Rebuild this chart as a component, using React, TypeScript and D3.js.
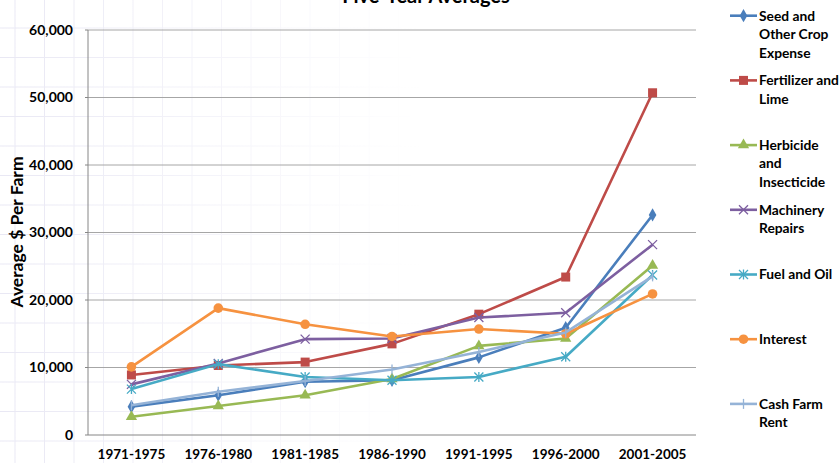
import React from 'react';
import * as d3 from 'd3';

const periods = ['1971-1975', '1976-1980', '1981-1985', '1986-1990', '1991-1995', '1996-2000', '2001-2005'];

const seed = [4200, 5900, 7900, 8100, 11500, 15900, 32600];
const fertilizer = [8900, 10300, 10800, 13500, 17900, 23400, 50700];
const herbicide = [2700, 4300, 5900, 8300, 13200, 14300, 25100];
const machinery = [7500, 10600, 14200, 14300, 17400, 18100, 28200];
const fuel = [6800, 10500, 8600, 8100, 8600, 11600, 23700];
const interest = [10100, 18800, 16400, 14600, 15700, 15000, 20900];
const rent = [4400, 6400, 8000, 9700, 12300, 15200, 23500];

const yTicks = [0, 10000, 20000, 30000, 40000, 50000, 60000];

const series = [
  { name: ['Seed and', 'Other Crop', 'Expense'], values: seed, color: '#4A7EBB', marker: 'diamond' },
  { name: ['Fertilizer and', 'Lime'], values: fertilizer, color: '#BE4B48', marker: 'square' },
  { name: ['Herbicide', 'and', 'Insecticide'], values: herbicide, color: '#98B954', marker: 'triangle' },
  { name: ['Machinery', 'Repairs'], values: machinery, color: '#7D5FA0', marker: 'x' },
  { name: ['Fuel and Oil'], values: fuel, color: '#46AAC5', marker: 'star' },
  { name: ['Interest'], values: interest, color: '#F69240', marker: 'circle' },
  { name: ['Cash Farm', 'Rent'], values: rent, color: '#95B3D7', marker: 'plus' },
];

const W = 840;
const H = 463;
const margin = { left: 88, right: 144, top: 30, bottom: 28 };
const font = 'Lato, "Open Sans", sans-serif';

const Marker = ({ type, x, y, color }: { type: string; x: number; y: number; color: string }) => {
  if (type === 'diamond') {
    return <path d={d3.symbol(d3.symbolDiamond, 50)()!} transform={`translate(${x},${y})`} fill={color} />;
  }
  if (type === 'square') {
    return <rect x={x - 4.5} y={y - 4.5} width={9} height={9} fill={color} />;
  }
  if (type === 'triangle') {
    return <path d={d3.symbol(d3.symbolTriangle, 55)()!} transform={`translate(${x},${y})`} fill={color} />;
  }
  if (type === 'circle') {
    return <circle cx={x} cy={y} r={4.8} fill={color} />;
  }
  if (type === 'x') {
    return (
      <path d={`M${x - 4.5},${y - 4.5}L${x + 4.5},${y + 4.5}M${x - 4.5},${y + 4.5}L${x + 4.5},${y - 4.5}`} stroke={color} strokeWidth={1.3} />
    );
  }
  if (type === 'star') {
    return (
      <path
        d={`M${x - 4.5},${y - 4.5}L${x + 4.5},${y + 4.5}M${x - 4.5},${y + 4.5}L${x + 4.5},${y - 4.5}M${x},${y - 5}L${x},${y + 5}`}
        stroke={color}
        strokeWidth={1.3}
      />
    );
  }
  return <path d={`M${x},${y - 5}L${x},${y + 5}`} stroke={color} strokeWidth={1.3} />;
};

const App = () => {
  const x = d3.scaleBand().domain(periods).range([margin.left, W - margin.right]);
  const y = d3.scaleLinear().domain([0, 60000]).range([H - margin.bottom, margin.top]);
  const cx = (p: string) => x(p)! + x.bandwidth() / 2;
  const line = d3
    .line<number>()
    .x((d, i) => cx(periods[i]))
    .y((d) => y(d));
  const fmt = d3.format(',');

  const bgLines = d3.range(0, 30);

  return (
    <svg width={W} height={H} style={{ position: 'absolute', left: 0, top: 0 }} fontFamily={font}>
      <defs>
        <linearGradient id="fade" x1="0" x2="1" y1="0" y2="0">
          <stop offset="0" stopColor="#fff" stopOpacity={1} />
          <stop offset="0.5" stopColor="#fff" stopOpacity={0} />
        </linearGradient>
        <mask id="bgmask">
          <rect width={W} height={H} fill="url(#fade)" />
        </mask>
      </defs>
      <rect width={W} height={H} fill="#fff" />
      <g mask="url(#bgmask)" stroke="#E9E8F4" strokeWidth={1}>
        {bgLines.map((i) => (
          <line key={'v' + i} x1={15 + i * 29.5} x2={15 + i * 29.5} y1={0} y2={H} />
        ))}
        {bgLines.map((i) => (
          <line key={'h' + i} x1={0} x2={W} y1={-1.5 + i * 29.5} y2={-1.5 + i * 29.5} />
        ))}
      </g>

      {/* gridlines */}
      {yTicks.slice(1).map((t) => (
        <line key={t} x1={margin.left} x2={W - margin.right} y1={y(t)} y2={y(t)} stroke="#A6A6A6" strokeWidth={1} />
      ))}
      <line x1={margin.left} x2={W - margin.right} y1={y(0)} y2={y(0)} stroke="#868686" />
      <line x1={margin.left} x2={margin.left} y1={y(60000)} y2={y(0)} stroke="#868686" />
      {yTicks.map((t) => (
        <line key={'tk' + t} x1={margin.left - 3} x2={margin.left} y1={y(t)} y2={y(t)} stroke="#868686" />
      ))}

      {/* y tick labels */}
      {yTicks.map((t) => (
        <text key={'yl' + t} x={73} y={y(t)} dy="0.35em" textAnchor="end" fontSize={14} fontWeight="bold" fill="#000">
          {fmt(t)}
        </text>
      ))}

      {/* x tick labels */}
      {periods.map((p) => (
        <text key={p} x={cx(p)} y={459} textAnchor="middle" fontSize={13.5} fontWeight="bold" fill="#000">
          {p}
        </text>
      ))}

      <text transform="translate(23,232) rotate(-90)" textAnchor="middle" fontSize={17.5} fontWeight="bold" fill="#000">
        Average $ Per Farm
      </text>
      <text x={426} y={3} textAnchor="middle" fontSize={20} fontWeight="bold" fill="#000">
        Five-Year Averages
      </text>

      {/* series */}
      {series.map((s) => (
        <g key={s.name.join(' ')}>
          <path d={line(s.values)!} fill="none" stroke={s.color} strokeWidth={2.6} strokeLinejoin="round" />
          {s.values.map((v, i) => (
            <Marker key={i} type={s.marker} x={cx(periods[i])} y={y(v)} color={s.color} />
          ))}
        </g>
      ))}

      {/* legend */}
      {series.map((s, i) => {
        const ly = 15.7 + i * 64.7;
        return (
          <g key={'lg' + i}>
            <line x1={730} x2={757} y1={ly} y2={ly} stroke={s.color} strokeWidth={2.6} />
            <Marker type={s.marker} x={743.5} y={ly} color={s.color} />
            {s.name.map((n, j) => (
              <text key={j} x={759} y={ly + j * 18.5} dy="0.35em" fontSize={13.8} fontWeight="bold" fill="#000">
                {n}
              </text>
            ))}
          </g>
        );
      })}
    </svg>
  );
};

export default App;
